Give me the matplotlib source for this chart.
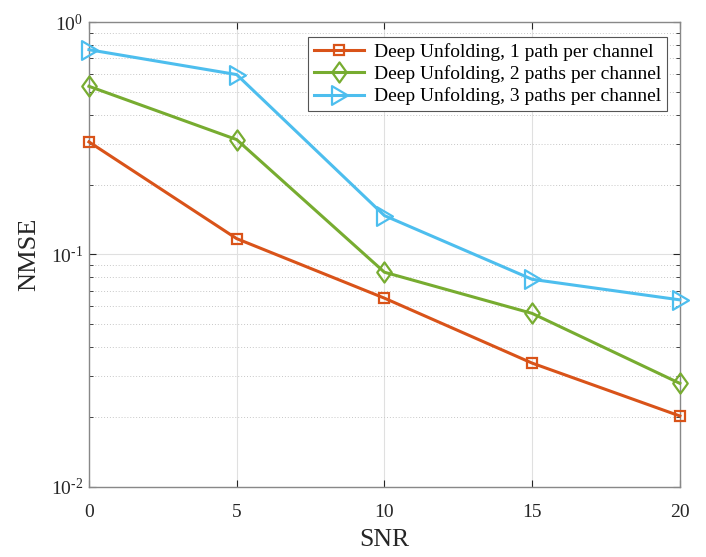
import matplotlib
matplotlib.use("Agg")
import matplotlib.pyplot as plt
from matplotlib.ticker import LogLocator, NullFormatter, FixedLocator, FixedFormatter
from matplotlib.path import Path

plt.rcParams['font.family'] = ['Liberation Serif', 'DejaVu Serif']
plt.rcParams['mathtext.fontset'] = 'custom'
plt.rcParams['mathtext.rm'] = 'Liberation Serif'
plt.rcParams['mathtext.it'] = 'Liberation Serif'

snr = [0, 5, 10, 15, 20]
nmse_1path = [0.305, 0.117, 0.0649, 0.0341, 0.0202]
nmse_2path = [0.529, 0.312, 0.0839, 0.0558, 0.0279]
nmse_3path = [0.760, 0.594, 0.147, 0.0782, 0.0638]
labels = ['Deep Unfolding, 1 path per channel',
          'Deep Unfolding, 2 paths per channel',
          'Deep Unfolding, 3 paths per channel']
xticks = [0, 5, 10, 15, 20]
yticks = [1e-2, 1e-1, 1e0]
ytick_labels = ['10$^{\\text{-2}}$', '10$^{\\text{-1}}$', '10$^{\\text{0}}$']

diamond = Path([(0, 1), (0.72, 0), (0, -1), (-0.72, 0), (0, 1)],
               [Path.MOVETO, Path.LINETO, Path.LINETO, Path.LINETO, Path.CLOSEPOLY])
tri_right = Path([(-0.8, 1), (0.9, 0), (-0.8, -1), (-0.8, 1)],
                 [Path.MOVETO, Path.LINETO, Path.LINETO, Path.CLOSEPOLY])

fig = plt.figure(figsize=(7.06, 5.57), dpi=100)
ax = fig.add_axes([0.126, 0.1257, 0.837, 0.8348])

ax.plot(snr, nmse_1path, color='#D95319', lw=2.2, marker='s', ms=7.5,
        mfc='none', mew=1.6, label=labels[0], clip_on=False, zorder=3)
ax.plot(snr, nmse_2path, color='#77AC30', lw=2.2, marker=diamond, ms=14.5,
        mfc='none', mew=1.6, label=labels[1], clip_on=False, zorder=3)
ax.plot(snr, nmse_3path, color='#4DBEEE', lw=2.2, marker=tri_right, ms=13.5,
        mfc='none', mew=1.6, label=labels[2], clip_on=False, zorder=3)

ax.set_yscale('log')
ax.set_xlim(0, 20)
ax.set_ylim(1e-2, 1e0)
ax.xaxis.set_major_locator(FixedLocator(xticks))
ax.yaxis.set_major_locator(FixedLocator(yticks))
ax.yaxis.set_major_formatter(FixedFormatter(ytick_labels))
ax.yaxis.set_minor_locator(LogLocator(base=10, subs=range(2, 10), numticks=20))
ax.yaxis.set_minor_formatter(NullFormatter())

ax.grid(True, which='major', color='#e0e0e0', lw=0.8, ls='-')
ax.grid(True, which='minor', axis='y', color='#c8c8c8', lw=0.7, ls=(0, (1, 2)))
ax.set_axisbelow(True)

for s in ax.spines.values():
    s.set_color('#888888')
    s.set_linewidth(1.0)
ax.tick_params(which='both', direction='in', top=True, right=True, colors='#262626',
               labelcolor='#262626', labelsize=14)
ax.tick_params(axis='x', which='major', pad=12)
ax.tick_params(axis='y', which='major', pad=4)
ax.tick_params(which='major', length=5)
ax.tick_params(which='minor', length=3)

ax.set_xlabel('SNR', fontsize=18.5, color='#262626', labelpad=6)
ax.set_ylabel('NMSE', fontsize=19, color='#262626', labelpad=8)

leg = ax.legend(loc='upper right', bbox_to_anchor=(0.978, 0.967), fontsize=14,
                frameon=True, fancybox=False, framealpha=1, edgecolor='#555555',
                handlelength=2.6, borderpad=0.3, labelspacing=0.22, handletextpad=0.5,
                borderaxespad=0.0)
leg.get_frame().set_linewidth(0.8)

fig.savefig('out.png', dpi=100)
